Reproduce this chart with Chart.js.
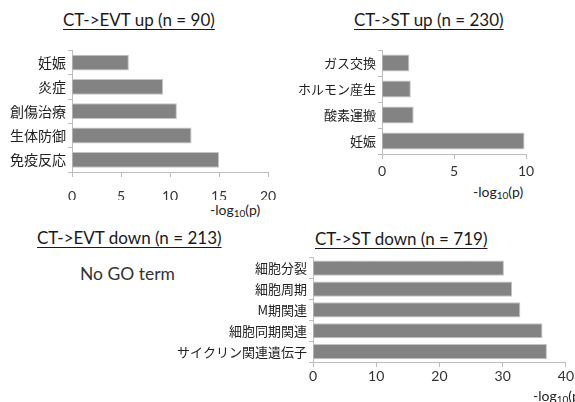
<!DOCTYPE html>
<html>
<head>
<meta charset="utf-8">
<script src="https://cdn.jsdelivr.net/npm/chart.js@4"></script>
<style>
  body { margin: 0; background: #fff; }
  #wrap { position: relative; width: 575px; height: 402px; overflow: hidden; background: #fff; font-family: Lato, 'Noto Sans CJK JP', sans-serif; }
  canvas { position: absolute; }
  .ttl { position: absolute; font-size: 17px; line-height: 16px; color: #1a1a1a; text-decoration: underline; text-underline-offset: 3px; white-space: nowrap; }
  .axt { position: absolute; font-size: 14px; line-height: 14px; color: #222; white-space: nowrap; }
  .axt sub { font-size: 10px; vertical-align: -2px; }
  .nogo { position: absolute; font-size: 17.5px; line-height: 20px; color: #333; white-space: nowrap; }
</style>
</head>
<body>
<div id="wrap">
  <div class="ttl" style="left:63px;top:12px">CT-&gt;EVT up (n = 90)</div>
  <div class="ttl" style="left:354px;top:12px">CT-&gt;ST up (n = 230)</div>
  <div class="ttl" style="left:37px;top:230px">CT-&gt;EVT down (n = 213)</div>
  <div class="ttl" style="left:315px;top:231px">CT-&gt;ST down (n = 719)</div>
  <div class="nogo" style="left:80px;top:264px">No GO term</div>

  <canvas id="c1" width="290" height="160" style="left:0;top:40px"></canvas>
  <canvas id="c2" width="285" height="140" style="left:290px;top:40px"></canvas>
  <canvas id="c4" width="405" height="140" style="left:170px;top:248px"></canvas>

  <div class="axt" style="left:210px;top:203px">-log<sub>10</sub>(p)</div>
  <div class="axt" style="left:473px;top:185px">-log<sub>10</sub>(p)</div>
  <div class="axt" style="left:533px;top:389px">-log<sub>10</sub>(p)</div>
</div>
<script>
// GO term enrichment, -log10(p)
const evtUpLabels = ['妊娠', '炎症', '創傷治療', '生体防御', '免疫反応'];
const evtUpValues = [5.8, 9.3, 10.7, 12.2, 15.0];

const stUpLabels = ['ガス交換', 'ホルモン産生', '酸素運搬', '妊娠'];
const stUpValues = [1.9, 2.0, 2.2, 9.9];

const stDownLabels = ['細胞分裂', '細胞周期', 'M期関連', '細胞同期関連', 'サイクリン関連遺伝子'];
const stDownValues = [30.2, 31.5, 32.8, 36.3, 37.0];

const axisColor = '#bdbdbd';

function makeBars(id, labels, values, opt) {
    const ctx = document.getElementById(id).getContext('2d');
    return new Chart(ctx, {
        type: 'bar',
        data: {
            labels: labels,
            datasets: [{
                data: values,
                backgroundColor: '#838383',
                borderColor: '#c4c4c4',
                borderWidth: 1,
                barPercentage: opt.bar,
                categoryPercentage: 1
            }]
        },
        options: {
            indexAxis: 'y',
            responsive: false,
            animation: false,
            layout: { padding: { top: opt.top, right: opt.right, left: 0, bottom: 0 } },
            plugins: { legend: { display: false }, tooltip: { enabled: false } },
            scales: {
                x: {
                    min: 0,
                    max: opt.max,
                    ticks: { stepSize: opt.step, color: '#333', padding: opt.tp, font: { family: 'Lato', size: 14 } },
                    grid: { drawOnChartArea: false, tickLength: 5, color: axisColor },
                    border: { color: axisColor },
                    afterFit: function(s) { s.height = opt.xh; }
                },
                y: {
                    ticks: { color: '#222', padding: 2, autoSkip: false, font: { family: 'Noto Sans CJK JP', size: opt.fs } },
                    grid: { drawOnChartArea: false, tickLength: 4, color: axisColor, offset: true },
                    border: { color: axisColor },
                    afterFit: function(s) { s.width = opt.yw; }
                }
            }
        }
    });
}

// chart area: left 72, right 268, top 47, bottom 172
makeBars('c1', evtUpLabels, evtUpValues, { max: 20, step: 5, top: 7, right: 22, yw: 72, xh: 28, tp: 11, bar: 0.65, fs: 14 });
// chart area: left 382, right 526, top 50, bottom 154
makeBars('c2', stUpLabels, stUpValues, { max: 10, step: 5, top: 10, right: 49, yw: 92, xh: 26, tp: 4, bar: 0.65, fs: 13 });
// chart area: left 313, right 568, top 255, bottom 362
makeBars('c4', stDownLabels, stDownValues, { max: 40, step: 10, top: 7, right: 7, yw: 143, xh: 26, tp: 1, bar: 0.73, fs: 13 });
</script>
</body>
</html>
